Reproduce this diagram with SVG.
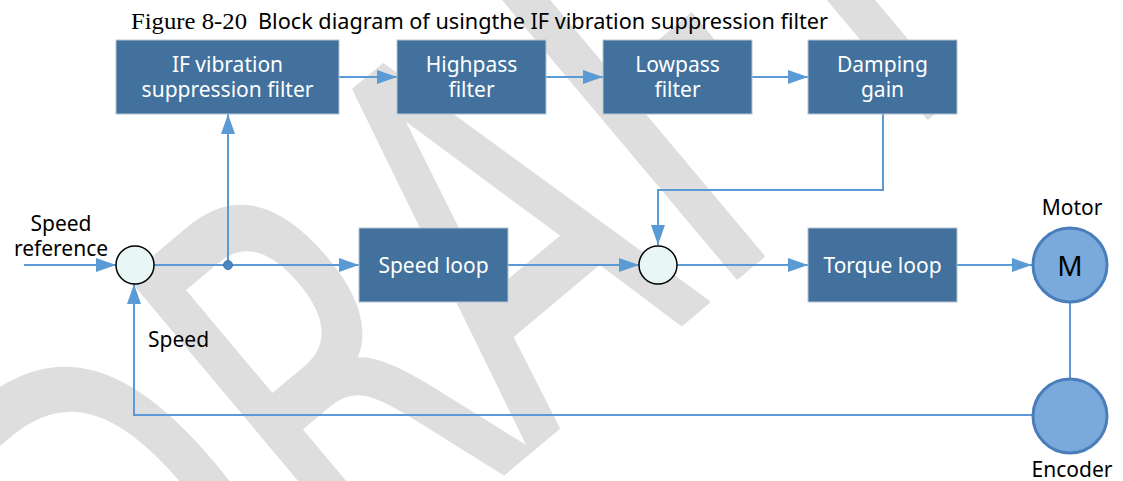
<svg xmlns="http://www.w3.org/2000/svg" width="1123" height="481" viewBox="0 0 1123 481">
<style>
.box{fill:#41719c;stroke:#b4c4d4;stroke-width:1}
.bt{fill:#ffffff;font-family:"Noto Sans","DejaVu Sans",sans-serif;font-size:21px;text-anchor:middle}
.lbl{fill:#000000;font-family:"Noto Sans","DejaVu Sans",sans-serif;font-size:21px}
.ln{fill:none;stroke:#5b9bd5;stroke-width:2}
.sum{fill:#e9f6f6;stroke:#000000;stroke-width:1.5}
.mot{fill:#7aaadc;stroke:#4a7ebb;stroke-width:3}
.wm{fill:#dedede;stroke:#dedede;stroke-width:4;stroke-linejoin:round;font-family:"DejaVu Sans",sans-serif;font-size:535px}
</style>
<defs>
<marker id="ah" markerUnits="userSpaceOnUse" markerWidth="20" markerHeight="14" refX="20" refY="7" orient="auto">
<path d="M0,0 L20,7 L0,14 z" fill="#5b9bd5"/>
</marker>
</defs>
<rect x="0" y="0" width="1123" height="481" fill="#ffffff"/>
<g id="watermark">
<text class="wm" transform="translate(149,771) rotate(-40) scale(0.65,1)" x="0" y="0">DRAFT</text>
</g>
<g id="title">
<text x="131" y="29" font-family="Liberation Serif,serif" font-size="24" textLength="116" lengthAdjust="spacingAndGlyphs">Figure 8-20</text>
<text x="258" y="29" font-family="Noto Sans,DejaVu Sans,sans-serif" font-size="21" textLength="570" lengthAdjust="spacingAndGlyphs">Block diagram of usingthe IF vibration suppression filter</text>
</g>
<g id="connectors">
<path class="ln" d="M339,77 H397" marker-end="url(#ah)"/>
<path class="ln" d="M546,77 H603" marker-end="url(#ah)"/>
<path class="ln" d="M752,77 H808" marker-end="url(#ah)"/>
<path class="ln" d="M883,114 V190 H658 V245" marker-end="url(#ah)"/>
<path class="ln" d="M24,265 H116" marker-end="url(#ah)"/>
<path class="ln" d="M154,265 H359" marker-end="url(#ah)"/>
<path class="ln" d="M228,265 V114" marker-end="url(#ah)"/>
<path class="ln" d="M508,265 H639" marker-end="url(#ah)"/>
<path class="ln" d="M677,265 H808" marker-end="url(#ah)"/>
<path class="ln" d="M957,265 H1032" marker-end="url(#ah)"/>
<path class="ln" d="M1070,303 V378" stroke-width="1.5"/>
<path class="ln" d="M1032,415 H134 V284" stroke-width="2.5" marker-end="url(#ah)"/>
<circle cx="228" cy="265" r="4.5" fill="#4a86c0" stroke="#3d78b2" stroke-width="1"/>
</g>
<g id="if-filter">
<rect class="box" x="116" y="40" width="223" height="74"/>
<text class="bt"><tspan x="227.5" y="72">IF vibration</tspan><tspan x="227.5" y="97">suppression filter</tspan></text>
</g>
<g id="highpass">
<rect class="box" x="397" y="40" width="149" height="74"/>
<text class="bt"><tspan x="471.5" y="72">Highpass</tspan><tspan x="471.5" y="97">filter</tspan></text>
</g>
<g id="lowpass">
<rect class="box" x="603" y="40" width="149" height="74"/>
<text class="bt"><tspan x="677.5" y="72">Lowpass</tspan><tspan x="677.5" y="97">filter</tspan></text>
</g>
<g id="damping">
<rect class="box" x="808" y="40" width="149" height="74"/>
<text class="bt"><tspan x="882.5" y="72">Damping</tspan><tspan x="882.5" y="97">gain</tspan></text>
</g>
<g id="sum1">
<circle class="sum" cx="135" cy="265" r="19"/>
</g>
<g id="speed-loop">
<rect class="box" x="359" y="228" width="149" height="74"/>
<text class="bt" x="433.5" y="273">Speed loop</text>
</g>
<g id="sum2">
<circle class="sum" cx="658" cy="265" r="19"/>
</g>
<g id="torque-loop">
<rect class="box" x="808" y="228" width="149" height="74"/>
<text class="bt" x="882.5" y="273">Torque loop</text>
</g>
<g id="motor">
<circle class="mot" cx="1070" cy="265" r="37"/>
<text x="1070" y="276" font-family="Noto Sans,DejaVu Sans,sans-serif" font-size="28" text-anchor="middle" fill="#000000">M</text>
<text class="lbl" x="1072" y="215" text-anchor="middle">Motor</text>
</g>
<g id="encoder">
<circle class="mot" cx="1070" cy="416" r="37"/>
<text class="lbl" x="1072" y="477" text-anchor="middle">Encoder</text>
</g>
<g id="labels">
<text class="lbl" text-anchor="middle"><tspan x="61" y="231">Speed</tspan><tspan x="61" y="256">reference</tspan></text>
<text class="lbl" x="148" y="347">Speed</text>
</g>
</svg>
